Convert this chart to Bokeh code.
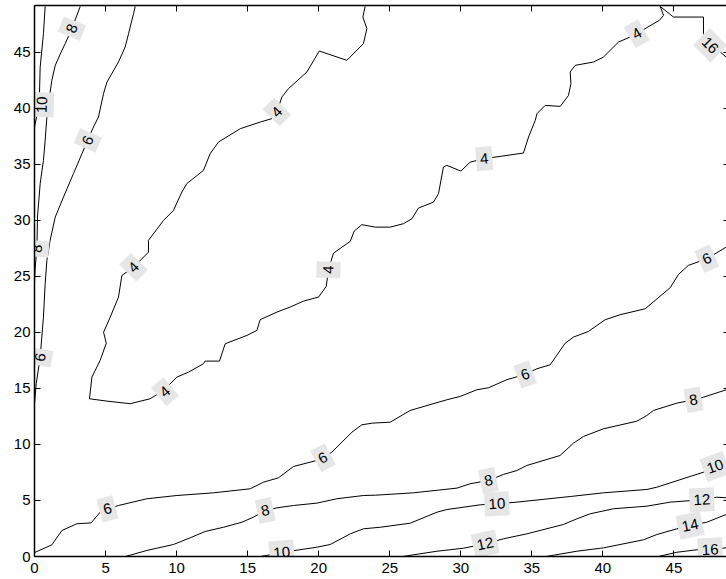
from bokeh.plotting import figure
from bokeh.models import Range1d, LinearAxis, ColumnDataSource, CustomLabelingPolicy
from bokeh.core.properties import value
from bokeh.embed import file_html
from bokeh.resources import INLINE

# ---- contour lines (x, y) ----
contour_4 = [(23.27, 49.07), (23.11, 48.12), (23.39, 47.09), (23.15, 45.75), (21.98, 44.26), (20.04, 45.09),
             (19.17, 43.22), (17.87, 41.73), (17.41, 40.99), (17.06, 39.65), (16.71, 39.06), (15.88, 38.75),
             (14.48, 38.16), (12.95, 36.97), (12.36, 35.93), (11.89, 34.44), (10.72, 33.26), (10.37, 32.51),
             (9.78, 30.87), (9.08, 29.98), (8.02, 28.2), (8.02, 27.15), (6.97, 25.81), (6.15, 25.07),
             (5.91, 23.14), (5.33, 21.35), (4.86, 20.01), (5.05, 19.03), (4.62, 17.49), (4.04, 16.0),
             (3.87, 14.07), (5.1, 13.86), (6.73, 13.63), (8.14, 14.07), (9.08, 14.81), (10.02, 16.0),
             (10.84, 16.45), (11.89, 17.19), (12.01, 17.43), (13.02, 17.43), (13.42, 18.98), (14.95, 19.72),
             (15.65, 20.17), (15.88, 21.12), (17.06, 21.8), (17.99, 22.25), (18.93, 22.78), (19.99, 23.14),
             (20.53, 24.09), (20.69, 25.58), (21.04, 27.06), (22.22, 28.11), (22.5, 29.03), (23.04, 29.6),
             (23.98, 29.38), (25.03, 29.38), (25.97, 29.69), (26.56, 30.13), (27.02, 31.08), (28.08, 31.61),
             (28.43, 32.36), (28.78, 34.74), (29.02, 34.89), (30.01, 34.38), (30.66, 35.18), (31.65, 35.49),
             (32.77, 35.69), (34.41, 35.99), (34.77, 37.42), (35.24, 38.9), (35.36, 39.5), (35.94, 40.24),
             (37.0, 40.15), (37.58, 41.13), (37.75, 42.18), (37.7, 43.22), (38.05, 43.81), (39.34, 44.11),
             (40.04, 44.55), (41.1, 45.89), (41.92, 46.34), (42.39, 46.64), (43.1, 47.18), (43.98, 47.83),
             (44.27, 48.27), (44.03, 49.07)]

contour_16_top = [(44.03, 49.07), (44.97, 48.12), (47.08, 48.12), (47.08, 46.64), (47.55, 45.6),
                  (48.26, 45.0), (48.68, 44.55)]

contour_6_left = [(7.09, 49.07), (6.97, 48.42), (6.62, 46.64), (6.38, 45.45), (5.91, 44.11), (5.1, 42.32),
                  (4.86, 41.29), (4.5, 39.2), (4.15, 38.31), (3.73, 37.12), (3.34, 35.93), (2.74, 34.15),
                  (2.04, 32.06), (1.46, 30.28), (1.1, 28.2), (0.87, 26.41), (0.75, 24.33), (0.63, 21.35),
                  (0.4, 17.78), (0.12, 15.41), (0.0, 13.63)]

contour_8_left = [(3.22, 49.07), (2.63, 47.09), (2.16, 45.75), (1.93, 45.15), (1.46, 43.81), (1.22, 42.47),
                  (1.1, 41.43), (0.87, 39.2), (0.75, 37.12), (0.63, 35.34), (0.4, 33.26), (0.21, 30.28),
                  (0.17, 27.46), (0.05, 25.81), (0.0, 24.36)]

contour_10_left = [(0.75, 49.07), (0.63, 46.64), (0.4, 43.66), (0.35, 41.29), (0.35, 40.3), (0.17, 39.35),
                   (0.0, 38.3)]

contour_6 = [(0.0, 0.35), (1.22, 1.04), (1.93, 2.32), (2.98, 2.92), (3.99, 3.0), (4.62, 3.95), (5.14, 4.25),
             (5.91, 4.55), (7.91, 5.15), (10.02, 5.44), (12.6, 5.68), (15.18, 6.04), (16.12, 6.63),
             (17.17, 7.02), (18.23, 8.03), (19.87, 8.57), (20.3, 8.8), (20.93, 9.31), (22.34, 11.09),
             (23.04, 11.75), (23.8, 11.9), (25.03, 11.98), (26.44, 13.03), (29.02, 13.98), (29.96, 14.28),
             (31.13, 14.87), (31.95, 15.05), (33.24, 15.77), (34.53, 16.24), (35.36, 16.75), (36.29, 17.1),
             (37.35, 19.03), (37.93, 19.57), (38.99, 20.08), (40.16, 21.12), (41.22, 21.57), (42.98, 22.1),
             (44.74, 23.98), (45.32, 25.16), (46.02, 25.97), (47.32, 26.56), (48.68, 27.6)]

contour_8 = [(6.4, 0.0), (7.91, 0.54), (9.78, 1.07), (10.96, 1.67), (12.01, 2.23), (13.3, 2.61), (14.6, 3.06),
             (15.41, 3.51), (16.24, 4.1), (17.06, 4.34), (18.23, 4.55), (19.87, 4.76), (21.28, 5.15),
             (23.15, 5.44), (24.0, 5.47), (26.67, 5.68), (29.73, 6.1), (30.66, 6.49), (31.95, 6.78),
             (33.0, 7.32), (33.95, 7.67), (34.65, 8.12), (36.99, 9.01), (37.93, 10.11), (38.64, 10.71),
             (40.04, 11.39), (42.39, 12.07), (43.1, 12.58), (43.56, 13.03), (45.21, 13.68), (46.38, 13.98),
             (47.08, 14.21), (48.68, 14.87)]

contour_10 = [(15.9, 0.0), (16.8, 0.2), (17.99, 0.47), (19.87, 0.83), (20.81, 1.07), (22.22, 2.02),
              (23.15, 2.47), (24.33, 2.61), (26.44, 2.97), (28.32, 3.95), (29.02, 4.19), (31.37, 4.61),
              (32.54, 4.7), (33.95, 4.85), (37.7, 5.35), (40.04, 5.68), (43.1, 5.98), (43.8, 6.18),
              (46.14, 7.14), (47.08, 7.52), (47.9, 8.03), (48.68, 8.57)]

contour_12 = [(25.9, 0.0), (28.32, 0.47), (30.19, 0.74), (31.72, 1.13), (33.0, 1.58), (34.65, 2.02),
              (37.23, 2.86), (38.17, 3.36), (39.11, 3.81), (40.75, 4.26), (43.1, 4.49), (44.74, 4.85),
              (46.97, 5.06), (48.02, 5.29), (48.68, 5.24)]

contour_14 = [(36.0, 0.0), (38.17, 0.47), (40.04, 0.77), (42.86, 1.49), (43.8, 1.96), (45.21, 2.47),
              (46.14, 2.77), (47.32, 3.06), (48.68, 3.75)]

contour_16 = [(43.9, 0.0), (45.21, 0.38), (46.62, 0.6), (47.55, 0.6), (48.68, 0.78)]

all_contours = [contour_4, contour_16_top, contour_6_left, contour_8_left, contour_10_left,
                contour_6, contour_8, contour_10, contour_12, contour_14, contour_16]

# ---- contour labels ----
label_text = ["6", "6", "6", "6", "8", "8", "8", "10", "10", "10", "12", "12", "14", "16",
              "4", "4", "4", "4", "4", "4", "6", "6", "8", "8", "10", "16"]
label_x = [5.14, 20.3, 34.53, 47.32, 16.24, 31.95, 46.38, 17.4, 32.54, 47.9, 31.72, 46.97, 46.14, 47.55,
           9.18, 6.97, 17.06, 20.69, 31.65, 42.39, 3.75, 0.4, 2.63, 0.17, 0.52, 47.55]
label_y = [4.25, 8.8, 16.24, 26.56, 4.1, 6.78, 13.98, 0.36, 4.7, 8.03, 1.13, 5.06, 2.77, 0.6,
           14.7, 25.81, 39.65, 25.58, 35.49, 46.64, 37.12, 17.78, 47.09, 27.46, 40.3, 45.6]
label_angle = [15, 28, 20, 25, 12, 12, 10, 5, 3, 20, 12, 3, 12, 3,
               40, 45, 45, 88, 5, 30, 66, 80, 68, 85, 88, -45]

x_ticks = [0, 5, 10, 15, 20, 25, 30, 35, 40, 45]
y_ticks = [0, 5, 10, 15, 20, 25, 30, 35, 40, 45]

FONT = "Liberation Sans"

p = figure(width=726, height=579, output_backend="svg", toolbar_location=None,
           x_range=Range1d(0, 48.7), y_range=Range1d(0, 49.15),
           min_border_left=34, min_border_right=0, min_border_top=5, min_border_bottom=23)
p.background_fill_color = "white"
p.border_fill_color = "white"
p.outline_line_color = None
p.xgrid.visible = False
p.ygrid.visible = False

for ax, ticks in ((p.xaxis[0], x_ticks), (p.yaxis[0], y_ticks)):
    ax.ticker = ticks
    ax.major_tick_in = 6
    ax.major_tick_out = 0
    ax.minor_tick_in = 0
    ax.minor_tick_out = 0
    ax.axis_line_width = 1.5
    ax.axis_line_color = "black"
    ax.major_tick_line_color = "black"
    ax.major_label_text_font = FONT
    ax.major_label_text_font_size = "15px"
    ax.major_label_text_color = "black"
p.xaxis[0].major_label_standoff = 6
p.yaxis[0].major_label_standoff = 4

HIDE_JS = """
try { for (const i of Array.from(indices.ones())) { indices.unset(i) } } catch (e) {}
return indices
"""

top = LinearAxis(ticker=x_ticks, major_tick_in=6, major_tick_out=0, minor_tick_in=0, minor_tick_out=0,
                 axis_line_width=1.5, major_label_text_font_size="0px", major_label_standoff=0,
                 major_label_policy=CustomLabelingPolicy(code=HIDE_JS))
p.add_layout(top, "above")

right = LinearAxis(ticker=y_ticks, major_tick_in=3, major_tick_out=0, minor_tick_in=0, minor_tick_out=0,
                   axis_line_color=None, major_label_text_font_size="0px", major_label_standoff=0,
                   major_label_policy=CustomLabelingPolicy(code=HIDE_JS))
p.add_layout(right, "right")

for c in all_contours:
    p.line([pt[0] for pt in c], [pt[1] for pt in c], line_color="black", line_width=1)

src = ColumnDataSource(dict(x=label_x, y=label_y, text=label_text, angle=label_angle))
p.text(x="x", y="y", text="text", angle="angle", angle_units="deg", source=src,
       text_align="center", text_baseline="middle", text_font=value(FONT), text_font_size="15px",
       text_color="black", background_fill_color="#e6e6e6",
       padding=dict(left=4, right=4, top=7, bottom=7))

open("out.html", "w").write(file_html(p, INLINE))
